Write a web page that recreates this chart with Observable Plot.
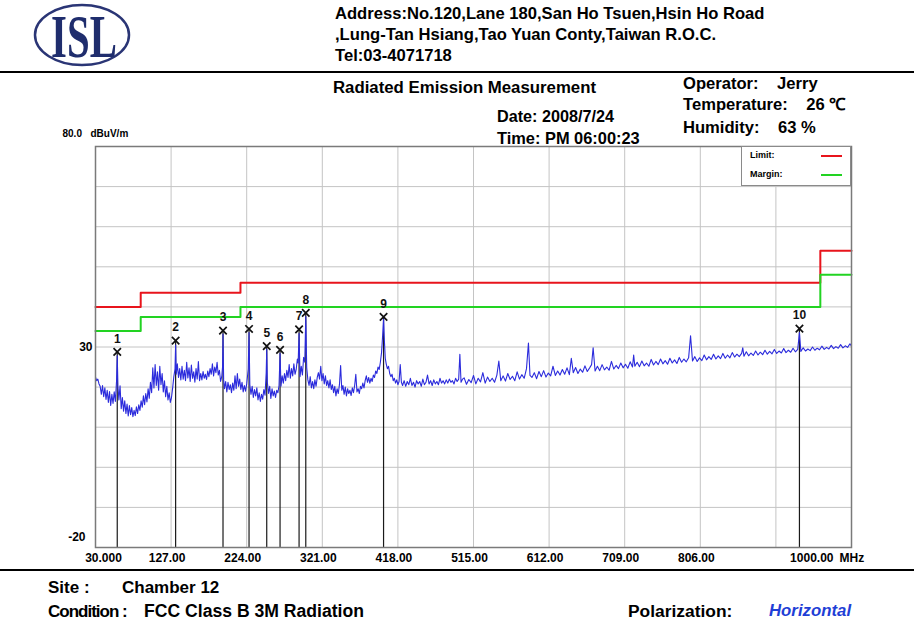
<!DOCTYPE html>
<html><head><meta charset="utf-8">
<script src="https://cdn.jsdelivr.net/npm/d3@7"></script>
<script src="https://cdn.jsdelivr.net/npm/@observablehq/plot@0.6"></script>
<style>
body{margin:0;background:#fff;}
#page{position:relative;width:914px;height:622px;overflow:hidden;font-family:"Liberation Sans",Arial,sans-serif;font-weight:bold;color:#000;background:#fff;}
#chart{position:absolute;left:0;top:0;}
.t{position:absolute;white-space:pre;line-height:1;}
.rule{position:absolute;left:0;width:914px;height:2px;background:#000;}
#legend{position:absolute;left:741px;top:146px;width:108px;height:38px;background:#fff;border:1px solid #8a8a8a;font-size:9px;}
#legend .sw{position:absolute;left:79px;width:21px;height:2px;}
</style></head><body>
<div id="page">
<div id="chart"></div>
<svg style="position:absolute;left:0;top:0" width="170" height="72">
  <ellipse cx="82" cy="35" rx="47" ry="30" fill="none" stroke="#2a3575" stroke-width="2.5"/>
  <text x="0" y="0" transform="translate(84,57) scale(0.68,1.02)" text-anchor="middle" font-family="'Liberation Serif','DejaVu Serif',serif" font-weight="bold" font-size="60" fill="#1f2d6d">ISL</text>
</svg>
<div class="t" style="left:335px;top:6px;font-size:16.6px">Address:No.120,Lane 180,San Ho Tsuen,Hsin Ho Road</div>
<div class="t" style="left:335px;top:27px;font-size:16.6px">,Lung-Tan Hsiang,Tao Yuan Conty,Taiwan R.O.C.</div>
<div class="t" style="left:335px;top:48px;font-size:16.6px">Tel:03-4071718</div>
<div class="rule" style="top:71px"></div>
<div class="t" style="left:333px;top:80px;font-size:16.8px">Radiated Emission Measurement</div>
<div class="t" style="left:497px;top:108px;font-size:16.2px">Date: 2008/7/24</div>
<div class="t" style="left:497px;top:130px;font-size:16.4px">Time: PM 06:00:23</div>
<div class="t" style="left:683px;top:76px;font-size:16.6px">Operator:    Jerry</div>
<div class="t" style="left:683px;top:97px;font-size:16.6px">Temperature:    26 ℃</div>
<div class="t" style="left:683px;top:120px;font-size:16.6px">Humidity:    63 %</div>
<div id="legend">
  <div class="t" style="left:8px;top:4px">Limit:</div>
  <div class="sw" style="top:8px;background:#e8141c"></div>
  <div class="t" style="left:8px;top:23px">Margin:</div>
  <div class="sw" style="top:27px;background:#22d322"></div>
</div>
<div class="rule" style="top:569px"></div>
<div class="t" style="left:48px;top:579px;font-size:17px">Site :</div>
<div class="t" style="left:122px;top:579px;font-size:17px">Chamber 12</div>
<div class="t" style="left:48px;top:603px;font-size:17px;letter-spacing:-1px">Condition :</div>
<div class="t" style="left:144px;top:603px;font-size:17.6px">FCC Class B 3M Radiation</div>
<div class="t" style="left:628px;top:603px;font-size:17.4px">Polarization:</div>
<div class="t" style="left:769px;top:603px;font-size:16.8px;color:#1f3fd6;font-style:italic">Horizontal</div>
</div>
<script>
// ---- data ----
const xTicks = [30, 127, 224, 321, 418, 515, 612, 709, 806];
const xTickLabels = ["30.000", "127.00", "224.00", "321.00", "418.00", "515.00", "612.00", "709.00", "806.00"];
const xGrid = [30, 127, 224, 321, 418, 515, 612, 709, 806, 903, 1000];
const yGrid = [-10, 0, 10, 20, 30, 40, 50, 60, 70];
const limitMHz = [30, 88, 216, 960, 1000];
const limitDb = [40, 43.5, 46, 54, 54];
const marginDb = [34, 37.5, 40, 48, 48];
const markerNo = ["1", "2", "3", "4", "5", "6", "7", "8", "9", "10"];
const markerMHz = [57.9, 132.8, 193.6, 227.0, 249.7, 266.8, 291.2, 299.8, 399.6, 933.2];
const markerDb = [28.8, 31.6, 34.1, 34.5, 30.2, 29.3, 34.4, 38.5, 37.5, 34.6];
const trace = [
[30,22.5],[31.5,21.6],[33,22.0],[34.5,20.8],[36,20.2],[37.5,18.2],[39,20.4],[40.5,17.6],[42,19.8],[43.5,16.9],[45,19.2],[46.5,16.2],[48,18.9],[49.5,15.4],[51,18.2],[52.5,15.9],[54,18.8],[55.5,16.4],[57,21.5],[57.9,27.8],[58.8,20.2],[60,16.8],[61.5,20.3],[63,14.6],[64.5,17.4],[66,14.0],[67.5,16.6],[69,13.4],[70.5,15.8],[72,12.8],[73.5,15.4],[75,13.1],[76.5,14.9],[78,12.6],[79.5,14.2],[81,12.9],[82.5,15.1],[84,13.4],[85.5,15.6],[87,14.2],[88.5,16.6],[90,15.0],[91.5,17.8],[93,15.6],[94.5,18.4],[96,16.3],[97.5,19.6],[99,17.2],[100.5,21.2],[102,18.6],[103.5,24.8],[105,19.8],[106.5,25.6],[108,20.4],[109.5,23.8],[111,19.2],[112.5,25.2],[114,20.6],[115.5,23.4],[117,18.8],[118.5,21.6],[120,17.6],[121.5,20.2],[123,16.8],[124.5,18.6],[126,16.2],[127.5,17.4],[129,19.8],[130.5,22.6],[132,24.5],[132.8,30.5],[133.6,23.2],[135,25.8],[136.5,22.4],[138,24.6],[139.5,21.8],[141,25.2],[142.5,22.0],[144,24.2],[145.5,21.6],[147,26.2],[148.5,22.3],[150,24.8],[151.5,21.4],[153,25.5],[154.5,22.2],[156,23.8],[157.5,21.2],[159,24.6],[160.5,22.0],[162,26.4],[163.5,21.6],[165,23.4],[166.5,21.8],[168,23.9],[169.5,22.2],[171,23.2],[172.5,21.9],[174,24.0],[175.5,22.6],[177,24.6],[178.5,23.2],[180,25.8],[181.5,22.8],[183,25.0],[184.5,23.6],[186,26.2],[187.5,23.0],[189,24.2],[190.5,21.4],[192,22.6],[193,25.0],[193.6,33.2],[194.4,21.8],[195.5,19.6],[197,21.4],[198.5,18.8],[200,21.2],[201.5,19.4],[203,20.6],[204.5,18.6],[206,21.0],[207.5,19.2],[209,22.8],[210.5,19.6],[212,23.4],[213.5,20.2],[215,22.0],[216.5,19.4],[218,21.2],[219.5,18.8],[221,20.4],[222.5,19.0],[224,20.8],[226,24.5],[227,33.6],[228,20.6],[229.5,18.2],[231,20.2],[232.5,17.4],[234,19.4],[235.5,17.8],[237,19.8],[238.5,16.8],[240,18.6],[241.5,16.4],[243,18.2],[244.5,17.0],[246,19.4],[247.5,18.0],[249,23.5],[249.7,29.4],[250.5,21.2],[252,18.4],[253.5,20.2],[255,17.2],[256.5,19.6],[258,17.8],[259.5,19.0],[261,17.4],[262.5,19.2],[264,18.6],[265.5,20.4],[266.8,28.4],[268,20.2],[269.5,22.8],[271,21.0],[272.5,23.4],[274,21.6],[275.5,24.2],[277,22.4],[278.5,25.6],[280,22.2],[281.5,24.6],[283,22.8],[284.5,25.8],[286,23.2],[287.5,24.4],[289,27.0],[290,26.0],[291.2,33.4],[292.4,22.6],[294,25.2],[295.5,23.0],[297,27.4],[298.5,26.2],[299.8,37.6],[301,24.8],[302.5,21.8],[304,20.4],[305.5,22.6],[307,19.8],[308.5,21.4],[310,19.6],[311.5,21.8],[313,20.2],[314.5,22.4],[316,23.6],[317.5,22.0],[319,25.2],[320.5,21.6],[322,23.4],[323.5,20.8],[325,22.8],[326.5,20.4],[328,21.6],[329.5,19.8],[331,21.8],[332.5,19.4],[334,20.6],[335.5,18.6],[337,20.2],[338.5,17.8],[340,19.6],[341.5,18.4],[343,20.6],[344.5,25.4],[346,19.2],[347.5,20.4],[349,18.2],[350.5,20.0],[352,17.8],[353.5,19.6],[355,18.4],[356.5,19.2],[358,17.9],[359.5,19.8],[361,18.6],[362.5,20.4],[364,23.2],[365.5,18.8],[367,19.6],[368.5,18.4],[370,20.2],[371.5,19.6],[373,21.0],[374.5,19.8],[376,21.6],[377.5,22.8],[379,21.2],[380.5,22.4],[382,21.0],[383.5,22.2],[385,21.4],[386.5,23.0],[388,22.4],[389.5,24.0],[391,23.4],[392.5,25.0],[394,24.4],[395.5,26.2],[397,28.6],[398.2,32.2],[399.6,37.0],[400.6,31.8],[401.8,27.2],[403,25.8],[404.5,24.6],[406,25.2],[407.5,23.4],[409,22.6],[410.5,23.2],[412,21.6],[413.5,22.2],[415,21.0],[416.5,21.8],[418,20.6],[419.5,21.4],[421,25.6],[422.5,21.2],[424,20.4],[426,21.6],[428,20.2],[430,21.4],[432,20.6],[434,22.2],[436,20.4],[438,21.2],[440,20.0],[442,21.6],[444,20.8],[446,21.4],[448,20.2],[450,22.0],[452,20.6],[454,21.2],[456,23.0],[458,20.8],[460,21.6],[462,20.4],[464,21.8],[466,20.8],[468,21.4],[470,20.6],[472,22.2],[474,21.0],[476,21.6],[478,20.8],[480,21.8],[482,21.0],[484,22.0],[486,21.2],[488,21.6],[490,20.8],[492,22.2],[494,21.4],[496,22.0],[497.5,28.2],[499,21.2],[501,22.0],
[503,22.3],[506,20.7],[509,21.9],[512,21.1],[515,22.9],[518,20.8],[521,22.2],[524,21.3],[527,23.6],[530,21.0],[533,22.5],[536,21.4],[539,22.2],[542,21.2],[545,23.0],[547.5,26.5],[550,21.6],[553,22.8],[556,21.5],[559,23.4],[562,21.9],[565,22.7],[568,21.6],[571,23.8],[574,22.0],[577,23.1],[580,22.2],[583,24.6],[585.5,31.0],[587.5,22.9],[590,22.4],[593,23.6],[596,22.1],[599,23.9],[602,22.6],[605,24.1],[608,22.5],[611,23.5],[614,22.8],[617,25.2],[620,22.9],[623,24.0],[626,23.0],[629,24.4],[632,23.2],[635,24.8],[638,23.1],[640.5,27.2],[643,23.6],[646,24.9],[649,23.4],[652,24.5],[655,23.7],[658,25.3],[661,23.9],[664,24.8],[666.5,25.6],[668.5,29.8],[671,24.0],[674,25.2],[677,24.1],[680,25.6],[683,24.3],[686,25.0],[689,24.2],[692,26.4],[695,24.5],[698,25.4],[701,24.6],[704,26.0],[707,24.8],[710,25.7],[713,24.7],[716,26.3],[719,25.0],[720.5,28.0],[722,25.2],[725,26.2],[728,25.1],[731,26.5],[734,25.3],[737,26.0],[740,25.2],[743,26.9],[746,25.5],[749,26.4],[752,25.6],[755,27.0],[758,25.8],[761,26.6],[764,25.7],[767,27.2],[770,26.0],[773,26.8],[776,25.9],[779,27.4],[782,26.2],[785,27.0],[788,26.3],[791,27.3],[793.5,32.8],[796,26.5],[799,27.6],[802,26.4],[805,27.3],[808,26.6],[811,28.0],[814,26.8],[817,27.6],[820,26.9],[823,28.2],[826,27.0],[829,27.8],[832,27.1],[835,28.4],[838,27.2],[841,28.0],[844,27.3],[847,28.6],[850,27.5],[853,28.2],[856,27.6],[859,28.4],[860.5,29.8],[862,27.7],[865,28.8],[868,27.8],[871,28.5],[874,27.9],[877,29.0],[880,28.0],[883,28.7],[886,28.1],[889,29.2],[892,28.2],[895,28.9],[898,28.3],[901,29.4],[904,28.4],[907,29.0],[910,28.5],[913,29.6],[916,28.6],[919,29.2],[922,28.7],[925,29.7],[928,28.8],[931,29.4],[933.2,33.6],[935,28.9],[938,29.8],[941,29.0],[944,29.5],[947,29.1],[950,30.0],[953,29.2],[956,29.7],[959,29.3],[962,30.2],[965,29.4],[968,29.9],[971,29.5],[974,30.4],[977,29.6],[980,30.1],[983,29.7],[986,30.6],[989,29.8],[992,30.3],[995,29.9],[998,30.8],[1000,30.2]
];

// ---- build ----
const limit = limitMHz.map((f, i) => ({f, db: limitDb[i]}));
const margin = limitMHz.map((f, i) => ({f, db: marginDb[i]}));
const markers = markerMHz.map((f, i) => ({f, db: markerDb[i], n: markerNo[i]}));
const traceData = d3.sort(trace.map(([f, db]) => ({f, db})), d => d.f);
const xLab = xTicks.map((f, i) => ({f, t: xTickLabels[i]}));
const narrow = "'Liberation Sans Narrow','Liberation Sans',Arial,sans-serif";
const timesSymbol = {
  draw(ctx, size) {
    const r = Math.sqrt(size) / 2;
    ctx.moveTo(-r, -r); ctx.lineTo(r, r);
    ctx.moveTo(r, -r); ctx.lineTo(-r, r);
  }
};

const chart = Plot.plot({
  width: 914,
  height: 622,
  marginLeft: 95,
  marginRight: 63,
  marginTop: 146,
  marginBottom: 75,
  x: {domain: [30, 1000], axis: null},
  y: {domain: [-20, 80], axis: null},
  style: {background: "transparent", fontFamily: narrow, fontWeight: "bold"},
  marks: [
    Plot.ruleX(xGrid, {stroke: "#c4c4c4", strokeWidth: 1}),
    Plot.ruleY(yGrid, {stroke: "#c4c4c4", strokeWidth: 1}),
    Plot.line(limit, {x: "f", y: "db", curve: "step-after", stroke: "#e8141c", strokeWidth: 2}),
    Plot.line(margin, {x: "f", y: "db", curve: "step-after", stroke: "#22d322", strokeWidth: 2}),
    Plot.ruleX(markers, {x: "f", y1: -20, y2: "db", stroke: "#1a1a1a", strokeWidth: 1.2}),
    Plot.line(traceData, {x: "f", y: "db", stroke: "#2b2bdc", strokeWidth: 1.1}),
    Plot.dot(markers, {x: "f", y: "db", symbol: timesSymbol, r: 4.2, stroke: "#111", strokeWidth: 1.7, fill: "none"}),
    Plot.text(markers, {x: "f", y: "db", text: "n", dy: -13, fontSize: 12, fill: "#111"}),
    Plot.frame({stroke: "#7a7a7a", strokeWidth: 1.5}),
    Plot.text(xLab.slice(0, 1), {x: "f", y: -20, text: "t", dy: 11, dx: 8, fontSize: 12, fill: "#000"}),
    Plot.text(xLab.slice(1), {x: "f", y: -20, text: "t", dy: 11, dx: -4, fontSize: 12, fill: "#000"}),
    Plot.text([1000], {x: d => d, y: -20, text: () => "1000.00", dy: 11, dx: -18, textAnchor: "end", fontSize: 12}),
    Plot.text([1000], {x: d => d, y: -20, text: () => "MHz", dy: 11, dx: -12, textAnchor: "start", fontSize: 12}),
    Plot.text([30], {x: 30, y: d => d, text: () => "30", dx: -3, textAnchor: "end", fontSize: 12}),
    Plot.text([-20], {x: 30, y: d => d, text: () => "-20", dx: -10, dy: -10, textAnchor: "end", fontSize: 12}),
    Plot.text([80], {x: 30, y: d => d, text: () => "80.0", dx: -33, dy: -13, textAnchor: "start", fontSize: 10}),
    Plot.text([80], {x: 30, y: d => d, text: () => "dBuV/m", dx: -5, dy: -13, textAnchor: "start", fontSize: 10})
  ]
});
document.getElementById("chart").appendChild(chart);
</script>
</body></html>
